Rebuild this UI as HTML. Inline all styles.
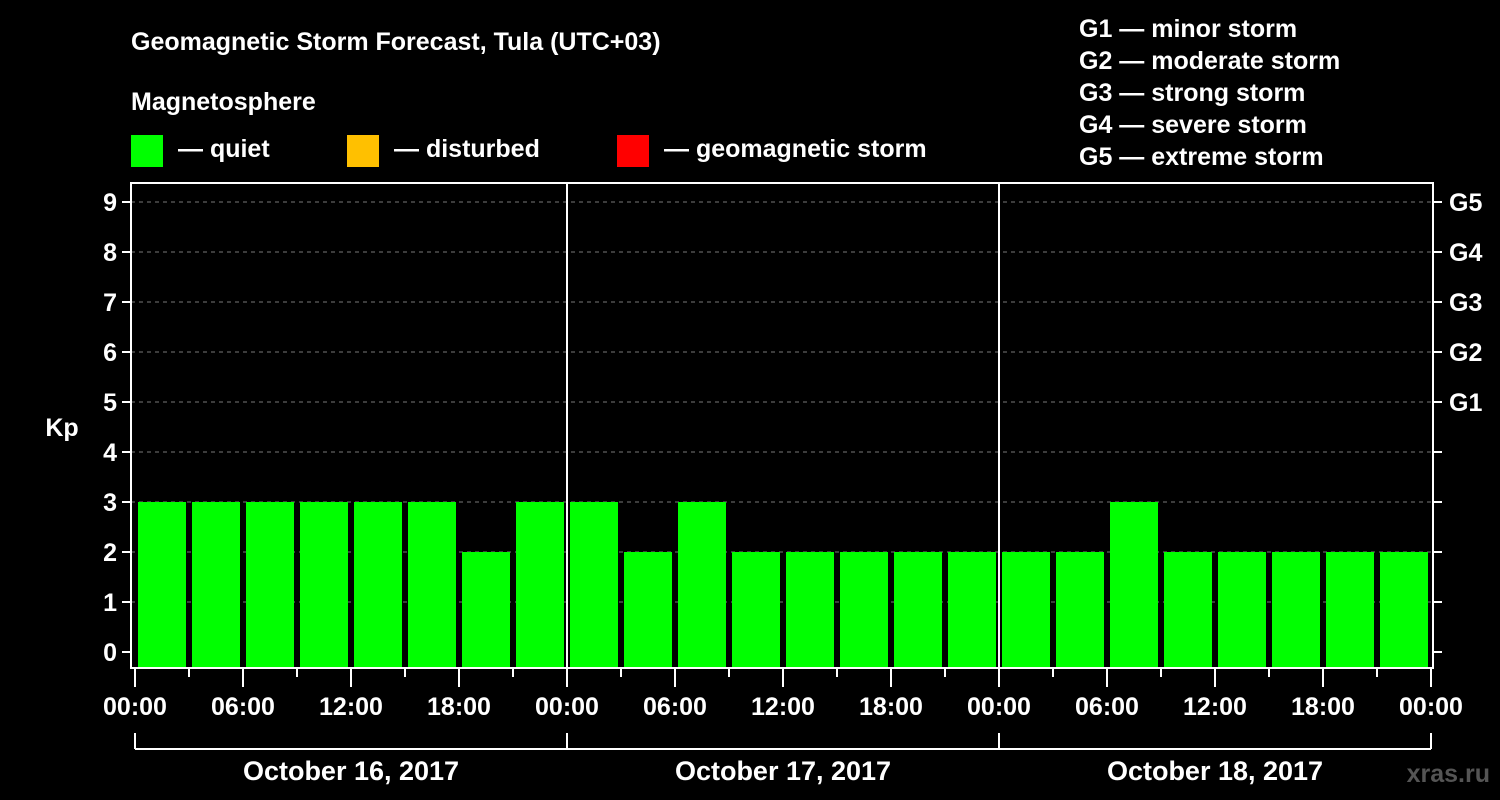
<!DOCTYPE html>
<html><head><meta charset="utf-8"><style>
body{margin:0;background:#000;width:1500px;height:800px;overflow:hidden}
svg{display:block;font-family:"Liberation Sans",Arial,sans-serif;font-weight:bold}
</style></head><body>
<svg id="c" width="1500" height="800">
<rect width="1500" height="800" fill="#000"/>
<text x="131" y="50" fill="#fff" font-size="25">Geomagnetic Storm Forecast, Tula (UTC+03)</text>
<text x="131" y="110" fill="#fff" font-size="25">Magnetosphere</text>
<g><rect x="131" y="135" width="32" height="32" fill="#00ff00"/><text x="178" y="157" fill="#fff" font-size="25">— quiet</text></g>
<g><rect x="347" y="135" width="32" height="32" fill="#ffc000"/><text x="394" y="157" fill="#fff" font-size="25">— disturbed</text></g>
<g><rect x="617" y="135" width="32" height="32" fill="#ff0000"/><text x="664" y="157" fill="#fff" font-size="25">— geomagnetic storm</text></g>
<g fill="#fff" font-size="25">
<text x="1079" y="37">G1 — minor storm</text>
<text x="1079" y="69">G2 — moderate storm</text>
<text x="1079" y="101">G3 — strong storm</text>
<text x="1079" y="133">G4 — severe storm</text>
<text x="1079" y="165">G5 — extreme storm</text>
</g>
<text x="62" y="436" fill="#fff" font-size="25" text-anchor="middle">Kp</text>
<text x="1490" y="782" fill="#555" font-size="25" text-anchor="end">xras.ru</text>
<g id="plot"></g>
</svg>
<script>
const kpValues=[3,3,3,3,3,3,2,3, 3,2,3,2,2,2,2,2, 2,2,3,2,2,2,2,2];
const yTicks=[0,1,2,3,4,5,6,7,8,9];
const gLabels=["G1","G2","G3","G4","G5"];
const gLevels=[5,6,7,8,9];
const xTickLabels=["00:00","06:00","12:00","18:00","00:00","06:00","12:00","18:00","00:00","06:00","12:00","18:00","00:00"];
const dates=["October 16, 2017","October 17, 2017","October 18, 2017"];
const NS="http://www.w3.org/2000/svg";
const g=document.getElementById('plot');
const L=131,R=1433,T=183,B=668;
const x0=135,slot=54;
const xs=i=>x0+i*slot;
const ys=v=>652-v*50;
function mk(t,a,p){const e=document.createElementNS(NS,t);for(const k in a)e.setAttribute(k,a[k]);(p||g).appendChild(e);return e;}
function color(v){return v>=5?"#ff0000":v>=4?"#ffc000":"#00ff00";}
yTicks.forEach(v=>{
 if(v>0){const l=mk('line',{x1:L,x2:R,y1:ys(v),y2:ys(v),stroke:'#777','stroke-dasharray':'4,4','stroke-width':1});
 
 }
 mk('line',{x1:L-9,x2:L,y1:ys(v),y2:ys(v),stroke:'#fff','stroke-width':2});
 mk('line',{x1:R,x2:R+9,y1:ys(v),y2:ys(v),stroke:'#fff','stroke-width':2});
 const t=mk('text',{x:L-14,y:ys(v)+9,fill:'#fff','font-size':25,'text-anchor':'end'});t.textContent=v;
 
 
});
gLabels.forEach((s,i)=>{const t=mk('text',{x:1449,y:ys(gLevels[i])+9,fill:'#fff','font-size':25});t.textContent=s;
 
 });
kpValues.forEach((v,i)=>{const r=mk('rect',{x:xs(i)+3,y:ys(v),width:48,height:B-ys(v),fill:color(v)});
 
 });
for(let d=1;d<3;d++)mk('line',{x1:xs(d*8),x2:xs(d*8),y1:T,y2:B,stroke:'#fff','stroke-width':2});
mk('rect',{x:L,y:T,width:R-L,height:B-T,fill:'none',stroke:'#fff','stroke-width':2});
for(let i=0;i<=24;i++){const maj=i%2==0;mk('line',{x1:xs(i),x2:xs(i),y1:B,y2:B+(maj?19:9),stroke:'#fff','stroke-width':2});}
xTickLabels.forEach((s,i)=>{const t=mk('text',{x:xs(i*2),y:715,fill:'#fff','font-size':25,'text-anchor':'middle'});t.textContent=s;
 
 });
mk('line',{x1:xs(0),x2:xs(24),y1:749,y2:749,stroke:'#fff','stroke-width':2});
for(let d=0;d<=3;d++)mk('line',{x1:xs(d*8),x2:xs(d*8),y1:733,y2:749,stroke:'#fff','stroke-width':2});
dates.forEach((s,i)=>{const t=mk('text',{x:xs(i*8+4),y:780,fill:'#fff','font-size':27,'text-anchor':'middle'});t.textContent=s;
 
 });
</script>
</body></html>
